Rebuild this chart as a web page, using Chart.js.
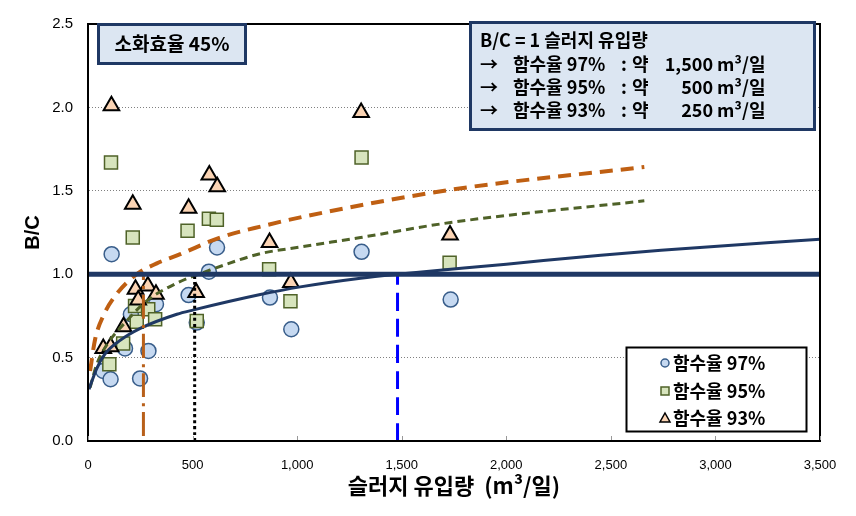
<!DOCTYPE html>
<html>
<head>
<meta charset="utf-8">
<script src="https://cdn.jsdelivr.net/npm/chart.js@4.4.0/dist/chart.umd.min.js"></script>
<style>
  html, body { margin: 0; padding: 0; background: #fff; }
</style>
</head>
<body>
<canvas id="chart" width="856" height="516"></canvas>
<script>
// measured points, [flow m3/day, B/C]
const pts97 = [[73, 0.42], [108, 0.37], [113, 1.12], [177, 0.555], [205, 0.76], [249, 0.375],
    [289, 0.54], [325, 0.82], [481, 0.875], [520, 0.71], [578, 1.015], [617, 1.16],
    [870, 0.86], [972, 0.67], [1308, 1.134], [1734, 0.848]];
const pts95 = [[102, 0.46], [168, 0.585], [225, 0.81], [233, 0.715], [288, 0.79], [321, 0.73],
    [110, 1.67], [214, 1.22], [476, 1.26], [520, 0.72], [578, 1.333], [616, 1.326],
    [866, 1.03], [968, 0.838], [1308, 1.70], [1729, 1.068]];
const pts93 = [[73, 0.555], [108, 0.565], [112, 2.01], [170, 0.685], [214, 1.42], [227, 0.91],
    [240, 0.845], [286, 0.93], [325, 0.88], [481, 1.395], [517, 0.89], [580, 1.594],
    [618, 1.525], [868, 1.19], [970, 0.95], [1306, 1.97], [1731, 1.235]];

// trend lines
const fit97 = [[5, 0.31], [40, 0.43], [80, 0.52], [150, 0.6], [250, 0.675], [425, 0.76],
    [505, 0.786], [824, 0.878], [1015, 0.924], [1303, 0.976], [1480, 1.0], [2000, 1.06],
    [2452, 1.114], [2740, 1.143], [3500, 1.21]];
const fit95 = [[10, 0.32], [41, 0.457], [89, 0.575], [185, 0.72], [281, 0.84], [425, 0.947],
    [584, 1.025], [824, 1.123], [1015, 1.163], [1303, 1.22], [1734, 1.31], [2660, 1.44]];
const fit93 = [[10, 0.42], [34, 0.61], [73, 0.75], [130, 0.87], [233, 1.0], [329, 1.065],
    [441, 1.12], [632, 1.22], [840, 1.29], [1050, 1.35], [1734, 1.506], [2660, 1.643]];

// B/C = 1 guide lines
const oneLine = [[0, 1], [3500, 1]];
const cut97 = [[1480, 0], [1480, 1]];
const cut95 = [[510, 0], [510, 1]];
const cut93 = [[265, 0.03], [265, 1]];

const xTickStep = 500;
const yTickStep = 0.5;

const seriesNames = ['함수율 97%', '함수율 95%', '함수율 93%'];
const noteTitle = '소화효율 45%';
const infoLines = ['B/C = 1 슬러지 유입량'];
const infoRows = [['함수율 97%', '1,500'], ['함수율 95%', '500'], ['함수율 93%', '250']];

const NAVY = '#1F3864';
const xy = arr => arr.map(p => ({ x: p[0], y: p[1] }));
const KR = "'Noto Sans CJK KR', sans-serif";

function line(data, color, width, dash, order) {
    return {
        data: xy(data), showLine: true, borderColor: color, borderWidth: width,
        borderDash: dash || [], pointRadius: 0, fill: false, order: order,
        cubicInterpolationMode: 'monotone', borderCapStyle: 'butt'
    };
}

const datasets = [
    line(oneLine, NAVY, 5, null, 0),
    line(cut97, '#0000FF', 3, [18, 8], 1),
    line(cut95, '#000000', 3, [3, 3], 1),
    line(cut93, '#B8601A', 3, [24, 6, 3, 6], 1),
    line(fit97, NAVY, 3, null, 2),
    line(fit95, '#4F6228', 3, [8, 5], 2),
    line(fit93, '#BF5F12', 4, [13, 8], 2),
    { label: seriesNames[0], data: xy(pts97), pointStyle: 'circle', pointRadius: 7.5,
      backgroundColor: '#C6D9F1', borderColor: '#385D8A', borderWidth: 1.5, order: 5 },
    { label: seriesNames[1], data: xy(pts95), pointStyle: 'rect', pointRadius: 9.2,
      backgroundColor: '#D7E4BD', borderColor: '#4F6228', borderWidth: 1.5, order: 4 },
    { label: seriesNames[2], data: xy(pts93), pointStyle: 'triangle', pointRadius: 9,
      backgroundColor: '#FBD4B4', borderColor: '#000000', borderWidth: 2, order: 3 },
];

function drawBox(ctx, x, y, w, h, fill, stroke, lw) {
    ctx.save();
    ctx.fillStyle = fill;
    ctx.fillRect(x, y, w, h);
    ctx.strokeStyle = stroke;
    ctx.lineWidth = lw;
    ctx.strokeRect(x, y, w, h);
    ctx.restore();
}

const decorations = {
    id: 'decorations',
    afterDraw(chart) {
        const ctx = chart.ctx;
        const a = chart.chartArea;
        ctx.save();
        ctx.strokeStyle = '#000';
        ctx.lineWidth = 2;
        ctx.strokeRect(a.left, a.top, a.right - a.left, a.bottom - a.top);

        // small inside tick marks on the x axis
        const xs = chart.scales.x;
        ctx.strokeStyle = '#999';
        ctx.lineWidth = 1;
        xs.ticks.forEach(t => {
            const px = Math.round(xs.getPixelForValue(t.value)) + 0.5;
            ctx.beginPath();
            ctx.moveTo(px, a.bottom - 1);
            ctx.lineTo(px, a.bottom - 5);
            ctx.stroke();
        });

        ctx.fillStyle = '#000';
        ctx.textBaseline = 'middle';

        // left note
        drawBox(ctx, 98.5, 24.5, 147, 39, '#DCE6F2', NAVY, 3);
        ctx.font = 'bold 19px ' + KR;
        ctx.textAlign = 'center';
        ctx.fillText(noteTitle, 172, 44);

        // right note
        drawBox(ctx, 470.5, 22.5, 344, 107, '#DCE6F2', NAVY, 3);
        ctx.font = 'bold 18px ' + KR;
        ctx.textAlign = 'left';
        ctx.fillText(infoLines[0], 480, 40);
        infoRows.forEach((r, i) => {
            const y = 64 + i * 23;
            ctx.textAlign = 'left';
            ctx.fillText('→', 480, y);
            ctx.fillText(r[0], 513, y);
            ctx.fillText(':', 621, y);
            ctx.fillText('약', 632, y);
            ctx.textAlign = 'right';
            ctx.fillText(r[1], 713, y);
            ctx.textAlign = 'left';
            ctx.fillText('m³/일', 717, y);
        });

        // legend
        drawBox(ctx, 626.5, 347.5, 180, 84, '#FFFFFF', '#000', 2);
        const rows = [363, 391, 418];
        chart.data.datasets.filter(d => d.label).forEach((d, i) => {
            const y = rows[i], x = 665;
            ctx.fillStyle = d.backgroundColor;
            ctx.strokeStyle = d.borderColor;
            ctx.lineWidth = 1.5;
            ctx.beginPath();
            if (d.pointStyle === 'circle') {
                ctx.arc(x, y, 4, 0, Math.PI * 2);
            } else if (d.pointStyle === 'rect') {
                ctx.rect(x - 4, y - 4, 8, 8);
            } else {
                ctx.moveTo(x, y - 5);
                ctx.lineTo(x + 5, y + 4);
                ctx.lineTo(x - 5, y + 4);
                ctx.closePath();
            }
            ctx.fill();
            ctx.stroke();
            ctx.fillStyle = '#000';
            ctx.font = 'bold 18px ' + KR;
            ctx.textAlign = 'left';
            ctx.fillText(d.label, 673, y);
        });
        ctx.restore();
    }
};

new Chart(document.getElementById('chart'), {
    type: 'scatter',
    data: { datasets: datasets },
    options: {
        responsive: false,
        animation: false,
        layout: { padding: { top: 16, right: 36, left: 0, bottom: 0 } },
        plugins: { legend: { display: false }, tooltip: { enabled: false } },
        scales: {
            x: {
                type: 'linear', min: 0, max: 3500,
                afterFit: s => { s.height = 75; },
                ticks: {
                    stepSize: xTickStep, color: '#000', padding: 9,
                    font: { family: "'Liberation Sans', sans-serif", size: 13 },
                    maxRotation: 0
                },
                grid: { display: false },
                border: { display: true, color: '#000', width: 2 },
                title: {
                    display: true, text: '슬러지 유입량  (m³/일)', color: '#000',
                    font: { family: KR, size: 22, weight: 'bold' },
                    padding: { top: 0, bottom: 17 }
                }
            },
            y: {
                min: 0, max: 2.5,
                afterFit: s => { s.width = 88; },
                ticks: {
                    stepSize: yTickStep, color: '#000', padding: 15,
                    font: { family: "'Liberation Sans', sans-serif", size: 15 },
                    callback: v => v.toFixed(1)
                },
                grid: {
                    drawTicks: false, lineWidth: 1,
                    color: c => (c.tick && (c.tick.value === 0 || c.tick.value === 2.5)) ? 'rgba(0,0,0,0)' : '#808080'
                },
                border: { display: true, color: '#000', width: 2, dash: [1, 2] },
                title: {
                    display: true, text: 'B/C', color: '#000',
                    font: { family: "'Liberation Sans', sans-serif", size: 20, weight: 'bold' },
                    padding: { top: 21, bottom: 0 }
                }
            }
        }
    },
    plugins: [decorations]
});
</script>
</body>
</html>
